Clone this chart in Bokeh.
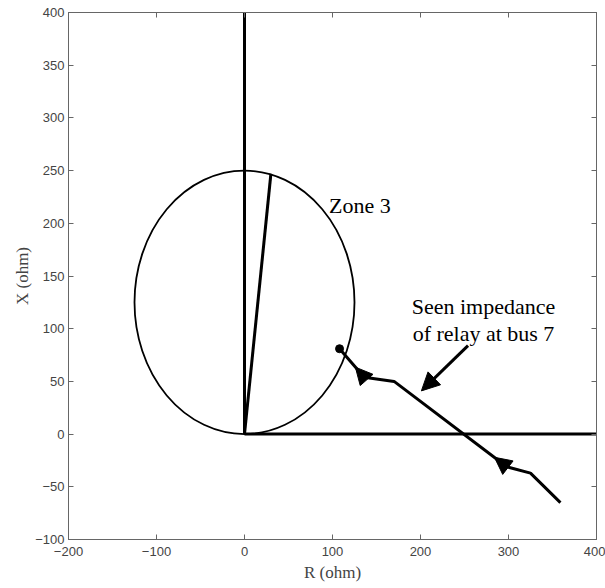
from bokeh.plotting import figure
from bokeh.models import LinearAxis, Range1d, FixedTicker, Arrow, NormalHead, ColumnDataSource
from bokeh.core.properties import value
from bokeh.embed import file_html
from bokeh.resources import INLINE

# ---- data ----
x_ticks = [-200, -100, 0, 100, 200, 300, 400]
y_ticks = [-100, -50, 0, 50, 100, 150, 200, 250, 300, 350, 400]

# Mho zone 3 circle (centre and diameter, ohm)
zone_center_R = [0]
zone_center_X = [125]
zone_diameter = [250]

# Relay characteristic lines
vert_R = [0, 0]
vert_X = [0, 400]
horiz_R = [0, 400]
horiz_X = [0, 0]
reach_R = [0, 30]
reach_X = [0, 247]

# Seen impedance trajectory
traj_R = [359, 325, 298, 170, 136, 108]
traj_X = [-65, -37, -31, 50, 54, 81]

# Direction arrowheads on trajectory (start, tip)
dir_start_R = [298, 136]
dir_start_X = [-31, 54]
dir_tip_R = [284, 126]
dir_tip_X = [-22, 63.5]

# Annotation pointer arrow
ann_start = (254, 84)
ann_end = (201, 41)

# Labels
label_text = ["Zone 3", "Seen impedance", "of relay at bus 7"]
label_R = [96, 271.6, 271.6]
label_X = [217, 120.6, 95.6]
label_align = ["left", "center", "center"]

x_lo, x_hi = -200, 400
y_lo, y_hi = -100, 400

p = figure(width=605, height=588, output_backend="svg", toolbar_location=None,
           x_range=Range1d(x_lo, x_hi), y_range=Range1d(y_lo, y_hi),
           min_border_left=68, min_border_right=9, min_border_top=12, min_border_bottom=49,
           x_axis_label="R (ohm)", y_axis_label="X (ohm)")
p.background_fill_color = "white"
p.border_fill_color = "white"
p.grid.visible = False
p.outline_line_color = "#666666"
p.outline_line_width = 1

axis_color = "#666666"
for ax, ticks in ((p.xaxis[0], x_ticks), (p.yaxis[0], y_ticks)):
    ax.ticker = FixedTicker(ticks=ticks)
    ax.major_tick_in = 5
    ax.major_tick_out = 0
    ax.minor_tick_line_color = None
    ax.axis_line_color = axis_color
    ax.major_tick_line_color = axis_color
    ax.major_label_text_font = "Liberation Sans"
    ax.major_label_text_font_size = "13px"
    ax.major_label_text_color = "#444444"
    ax.axis_label_text_font = "Liberation Serif"
    ax.axis_label_text_font_size = "17px"
    ax.axis_label_text_font_style = "normal"
    ax.axis_label_text_color = "#444444"
p.xaxis[0].major_label_standoff = 7
p.xaxis[0].axis_label_standoff = 4
p.yaxis[0].major_label_standoff = 4
p.yaxis[0].axis_label_standoff = 0

# box axes on top and right: inward ticks, no labels
top = LinearAxis(ticker=FixedTicker(ticks=x_ticks), major_tick_in=5, major_tick_out=0,
                 minor_tick_line_color=None, major_label_standoff=0,
                 major_label_overrides={t: "" for t in x_ticks},
                 axis_line_color=axis_color, major_tick_line_color=axis_color)
right = LinearAxis(ticker=FixedTicker(ticks=y_ticks), major_tick_in=5, major_tick_out=0,
                   minor_tick_line_color=None, major_label_standoff=0,
                   major_label_overrides={t: "" for t in y_ticks},
                   axis_line_color=axis_color, major_tick_line_color=axis_color)
p.add_layout(top, "above")
p.add_layout(right, "right")

# zone circle
p.ellipse(x=zone_center_R, y=zone_center_X, width=zone_diameter, height=zone_diameter,
          fill_color=None, line_color="black", line_width=1.8)

# characteristic lines
p.line(vert_R, vert_X, line_color="black", line_width=3)
p.line(horiz_R, horiz_X, line_color="black", line_width=3)
p.line(reach_R, reach_X, line_color="black", line_width=3)

# trajectory
p.line(traj_R, traj_X, line_color="black", line_width=3, line_join="round")
p.scatter([traj_R[-1]], [traj_X[-1]], size=8, color="black")

for xs, ys, xe, ye in zip(dir_start_R, dir_start_X, dir_tip_R, dir_tip_X):
    p.add_layout(Arrow(end=NormalHead(size=17, fill_color="black", line_color="black"),
                       x_start=xs, y_start=ys, x_end=xe, y_end=ye, line_alpha=0))

p.add_layout(Arrow(end=NormalHead(size=18, fill_color="black", line_color="black"),
                   x_start=ann_start[0], y_start=ann_start[1], x_end=ann_end[0], y_end=ann_end[1],
                   line_color="black", line_width=3))

src = ColumnDataSource(dict(x=label_R, y=label_X, t=label_text, a=label_align))
p.text(x="x", y="y", text="t", text_align="a", source=src, text_baseline="alphabetic",
       text_font=value("Liberation Serif"), text_font_size="22px", text_color="black")

open("out.html", "w").write(file_html(p, INLINE))
